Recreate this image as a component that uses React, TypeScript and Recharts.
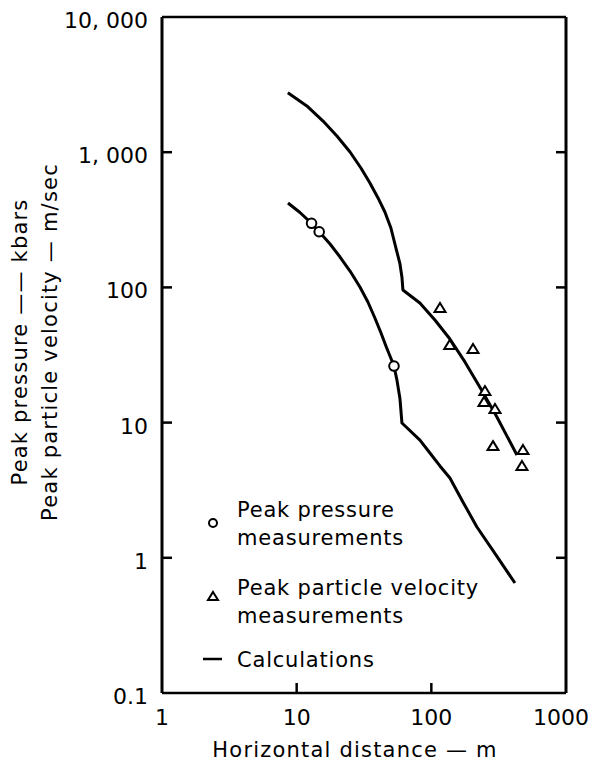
import { ComposedChart, Line, Scatter, XAxis, YAxis, Legend, Label } from "recharts";

const FONT = '"DejaVu Sans", sans-serif';

// axis ticks
const distanceTicks = [1, 10, 100, 1000];
const distanceTickLabels = ["1", "10", "100", "1000"];
const valueTicks = [0.1, 1, 10, 100, 1000, 10000];
const valueTickLabels = ["0.1", "1", "10", "100", "1, 000", "10, 000"];

// calculations - particle velocity (upper curve)
const velocityCalcX = [8.6, 11.9, 15.7, 19.9, 24.9, 30, 35, 40.2, 45.2, 50.1, 54.6, 58.5, 60.5, 61.5, 82.2, 106.3, 137.4, 177.6, 233.5, 306.9, 432];
const velocityCalcY = [2750, 2200, 1700, 1318, 1003, 764, 592, 459, 361, 275, 195.5, 149, 119, 95.7, 76.7, 57.4, 41.5, 28.1, 17.7, 11, 5.76];

// calculations - pressure (lower curve)
const pressureCalcX = [8.62, 10.58, 12.9, 14.7, 17.7, 21, 24.9, 29.5, 33.8, 38.1, 42.3, 46, 49.3, 52.8, 55.5, 58.5, 60.5, 82.3, 97.6, 115.8, 137.4, 171.6, 218, 301.7, 417.5];
const pressureCalcY = [421, 358, 298, 258, 209.5, 167.8, 132.2, 100.7, 78, 59.4, 46, 36.9, 31.1, 26.2, 20.7, 15, 9.93, 7.43, 5.96, 4.78, 3.89, 2.59, 1.69, 1.05, 0.651];

// measurements
const pressureMeasX = [12.9, 14.7, 52.8];
const pressureMeasY = [298, 258, 26.2];
const velocityMeasX = [116, 137, 204, 250, 246, 297, 287, 479, 471];
const velocityMeasY = [70.5, 37.5, 35, 17.1, 14.2, 12.6, 6.7, 6.27, 4.78];

const toPoints = (xs: number[], ys: number[]) => xs.map((x, i) => ({ x, y: ys[i] }));

const TICK_LEN = 10;
const AXIS_W = 2.5;

const LeftTick = ({ x, y, payload }: any) => {
  const i = valueTicks.indexOf(payload.value);
  const inner = i > 0 && i < valueTicks.length - 1;
  return (
    <g>
      {inner && <line x1={x + 14} x2={x + 14 + TICK_LEN} y1={y} y2={y} stroke="#000" strokeWidth={2.5} />}
      <text x={x} y={y + 11} textAnchor="end" fontFamily={FONT} fontSize={22} fill="#000">
        {valueTickLabels[i]}
      </text>
    </g>
  );
};

const RightTick = ({ x, y, payload }: any) => {
  const i = valueTicks.indexOf(payload.value);
  if (i <= 0 || i >= valueTicks.length - 1) return <g />;
  return <line x1={x} x2={x - TICK_LEN} y1={y} y2={y} stroke="#000" strokeWidth={2.5} />;
};

const BottomTick = ({ x, y, payload }: any) => {
  const i = distanceTicks.indexOf(payload.value);
  const inner = i > 0 && i < distanceTicks.length - 1;
  const last = i === distanceTicks.length - 1;
  return (
    <g>
      {inner && <line x1={x} x2={x} y1={y} y2={y - TICK_LEN} stroke="#000" strokeWidth={2.5} />}
      <text x={last ? x - 5 : x} y={y + 32} textAnchor="middle" fontFamily={FONT} fontSize={22} fill="#000">
        {distanceTickLabels[i]}
      </text>
    </g>
  );
};

const TopTick = ({ x, y, payload }: any) => {
  const i = distanceTicks.indexOf(payload.value);
  if (i <= 0 || i >= distanceTicks.length - 1) return <g />;
  return <line x1={x} x2={x} y1={y} y2={y + TICK_LEN} stroke="#000" strokeWidth={2.5} />;
};

const YTitle = ({ viewBox }: any) => {
  const cy = viewBox.y + viewBox.height / 2 - 13;
  return (
    <g fontFamily={FONT} fontSize={21} fill="#000" letterSpacing={1.2}>
      <text x={27} y={cy} textAnchor="middle" transform={`rotate(-90 27 ${cy})`}>
        Peak pressure —— kbars
      </text>
      <text x={57} y={cy} textAnchor="middle" transform={`rotate(-90 57 ${cy})`}>
        Peak particle velocity — m/sec
      </text>
    </g>
  );
};

const XTitle = ({ viewBox }: any) => (
  <text
    x={viewBox.x + viewBox.width / 2 - 9}
    y={757}
    textAnchor="middle"
    fontFamily={FONT}
    fontSize={21}
    letterSpacing={1.2}
    fill="#000"
  >
    Horizontal distance — m
  </text>
);

const Circle = ({ cx, cy }: any) => (
  <circle cx={cx} cy={cy} r={4.8} fill="#fff" stroke="#000" strokeWidth={2} />
);

const Triangle = ({ cx, cy }: any) => (
  <path
    d={`M${cx},${cy - 5} L${cx + 5.5},${cy + 4} L${cx - 5.5},${cy + 4} Z`}
    fill="#fff"
    stroke="#000"
    strokeWidth={2}
    strokeLinejoin="miter"
  />
);

const KeyBox = () => (
  <svg width={340} height={185} style={{ display: "block" }}>
    <g fontFamily={FONT} fontSize={21} fill="#000" letterSpacing={0.8}>
      <circle cx={13} cy={33} r={4} fill="#fff" stroke="#000" strokeWidth={2} />
      <text x={37} y={27}>Peak pressure</text>
      <text x={37} y={55}>measurements</text>
      <path d="M13,102 L18,110 L8,110 Z" fill="#fff" stroke="#000" strokeWidth={2} />
      <text x={37} y={105}>Peak particle velocity</text>
      <text x={37} y={133}>measurements</text>
      <line x1={3} x2={22} y1={169} y2={169} stroke="#000" strokeWidth={2.5} />
      <text x={37} y={177}>Calculations</text>
    </g>
  </svg>
);

export default function App() {
  return (
    <div style={{ position: "absolute", left: 0, top: 0, background: "#fff" }}>
      <ComposedChart width={592} height={764} margin={{ top: 16, right: 25, bottom: 0, left: 0 }}>
        <XAxis
          dataKey="x"
          type="number"
          scale="log"
          domain={[1, 1000]}
          ticks={distanceTicks}
          allowDataOverflow
          height={71}
          tickSize={0}
          tickMargin={0}
          tick={<BottomTick />}
          axisLine={{ stroke: "#000", strokeWidth: AXIS_W }}
          tickLine={false}
          interval={0}
        >
          <Label content={<XTitle />} />
        </XAxis>
        <XAxis
          xAxisId="top"
          orientation="top"
          type="number"
          scale="log"
          domain={[1, 1000]}
          ticks={distanceTicks}
          allowDataOverflow
          height={1}
          tickSize={0}
          tickMargin={0}
          tick={<TopTick />}
          axisLine={{ stroke: "#000", strokeWidth: AXIS_W }}
          tickLine={false}
          interval={0}
        />
        <YAxis
          dataKey="y"
          type="number"
          scale="log"
          domain={[0.1, 10000]}
          ticks={valueTicks}
          allowDataOverflow
          width={162}
          tickSize={0}
          tickMargin={14}
          tick={<LeftTick />}
          axisLine={{ stroke: "#000", strokeWidth: 3 }}
          tickLine={false}
          interval={0}
        >
          <Label content={<YTitle />} />
        </YAxis>
        <YAxis
          yAxisId="right"
          orientation="right"
          type="number"
          scale="log"
          domain={[0.1, 10000]}
          ticks={valueTicks}
          allowDataOverflow
          width={1}
          tickSize={0}
          tickMargin={0}
          tick={<RightTick />}
          axisLine={{ stroke: "#000", strokeWidth: 3 }}
          tickLine={false}
          interval={0}
        />
        <Legend
          layout="horizontal"
          verticalAlign="middle"
          align="center"
          content={<KeyBox />}
          wrapperStyle={{ position: "absolute", left: 200, top: 490, width: 340 }}
        />
        <Line
          data={toPoints(velocityCalcX, velocityCalcY)}
          dataKey="y"
          type="linear"
          stroke="#000"
          strokeWidth={3}
          strokeLinejoin="round"
          dot={false}
          isAnimationActive={false}
          legendType="none"
        />
        <Line
          data={toPoints(pressureCalcX, pressureCalcY)}
          dataKey="y"
          type="linear"
          stroke="#000"
          strokeWidth={3}
          strokeLinejoin="round"
          dot={false}
          isAnimationActive={false}
          legendType="none"
        />
        <Scatter
          data={toPoints(pressureMeasX, pressureMeasY)}
          dataKey="y"
          shape={<Circle />}
          isAnimationActive={false}
        />
        <Scatter
          data={toPoints(velocityMeasX, velocityMeasY)}
          dataKey="y"
          shape={<Triangle />}
          isAnimationActive={false}
        />
      </ComposedChart>
    </div>
  );
}
